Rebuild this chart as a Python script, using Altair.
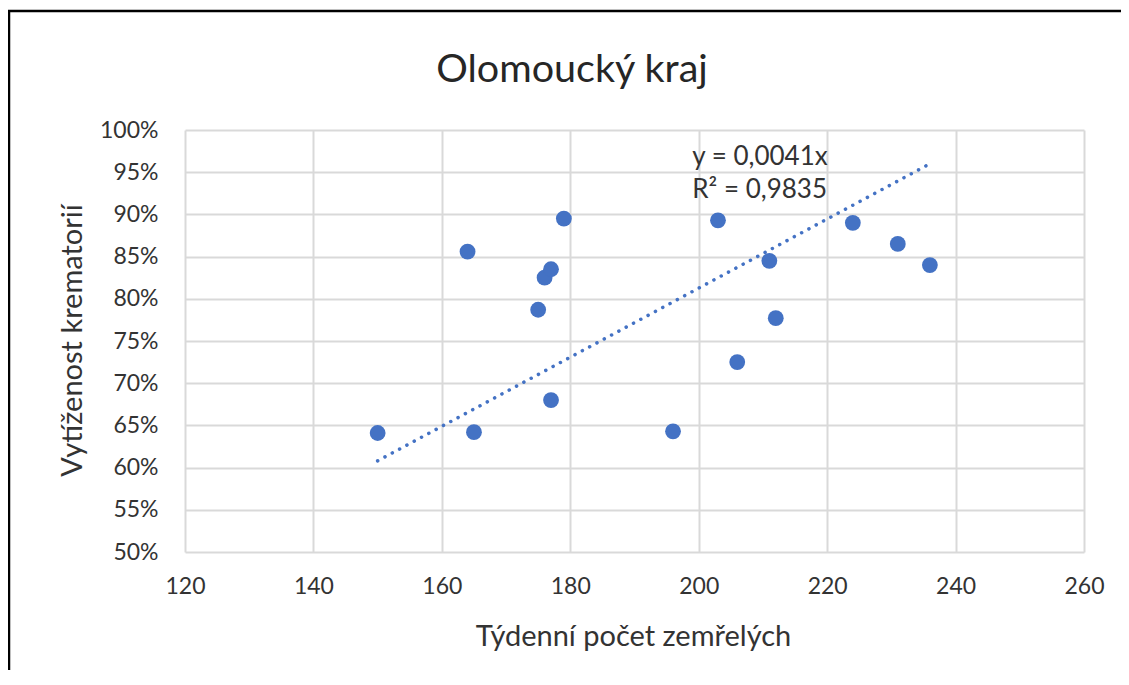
import altair as alt
import pandas as pd

# Data
deaths = [150, 164, 165, 175, 176, 177, 177, 179, 196, 203, 206, 211, 212, 224, 231, 236]
utilization = [0.641, 0.856, 0.642, 0.787, 0.825, 0.835, 0.680, 0.895, 0.643, 0.893, 0.725, 0.845, 0.777, 0.890, 0.865, 0.840]

trend_x = [150, 236]
trend_y = [0.608, 0.960]

eq_lines = ["y = 0,0041x", "R² = 0,9835"]
eq_x = [199.0, 199.0]
eq_y = [0.968, 0.929]

chart_title = ["Olomoucký kraj"]

FONT = "Lato"
TXT = "#333333"
BLUE = "#4472C4"

pts = pd.DataFrame({"x": deaths, "y": utilization})
trend = pd.DataFrame({"x": trend_x, "y": trend_y})
eq = pd.DataFrame({"x": eq_x, "y": eq_y, "t": eq_lines})
ttl = pd.DataFrame({"t": chart_title})

xscale = alt.Scale(domain=[120, 260], nice=False, zero=False)
yscale = alt.Scale(domain=[0.5, 1.0], nice=False, zero=False)

xaxis = alt.Axis(
    title="Týdenní počet zemřelých", values=list(range(120, 261, 20)),
    grid=True, gridColor="#d9d9d9", gridWidth=2, domain=False, ticks=False, tickSize=0,
    labelFont=FONT, labelFontSize=23, labelColor=TXT, labelPadding=23, labelFlush=False,
    titleFont=FONT, titleFontSize=29, titleColor=TXT, titleFontWeight="normal",
    titleX=448, titleY=84, titleBaseline="middle", titleAnchor="middle",
)
yaxis = alt.Axis(
    title="Vytíženost krematorií", values=[0.5 + 0.05 * i for i in range(11)], format=".0%",
    grid=True, gridColor="#d9d9d9", gridWidth=2, domain=False, ticks=False, tickSize=0,
    labelFont=FONT, labelFontSize=23, labelColor=TXT, labelPadding=27, labelFlush=False,
    titleFont=FONT, titleFontSize=29, titleColor=TXT, titleFontWeight="normal",
    titleX=-113, titleY=210, titleBaseline="middle", titleAngle=270, titleAlign="center",
)

points = alt.Chart(pts).mark_circle(size=250, color=BLUE, opacity=1).encode(
    x=alt.X("x:Q", scale=xscale, axis=xaxis),
    y=alt.Y("y:Q", scale=yscale, axis=yaxis),
)

line = alt.Chart(trend).mark_line(
    color=BLUE, strokeWidth=3.5, strokeDash=[0.1, 8.2], strokeCap="round"
).encode(x=alt.X("x:Q", scale=xscale), y=alt.Y("y:Q", scale=yscale))

label = alt.Chart(eq).mark_text(
    align="left", baseline="middle", font=FONT, fontSize=26, color=TXT
).encode(x=alt.X("x:Q", scale=xscale), y=alt.Y("y:Q", scale=yscale), text="t:N")

title_mark = alt.Chart(ttl).mark_text(
    align="center", baseline="middle", font=FONT, fontSize=39.5, color="#262626"
).encode(x=alt.value(387), y=alt.value(-60), text="t:N")

border_top = alt.Chart(ttl).mark_rule(color="black", strokeWidth=2.5).encode(
    x=alt.value(-177), x2=alt.value(960), y=alt.value(-119)
)
border_left = alt.Chart(ttl).mark_rule(color="black", strokeWidth=2.5).encode(
    x=alt.value(-176), y=alt.value(-119), y2=alt.value(560)
)

chart = alt.layer(points, line, label, title_mark, border_top, border_left).properties(
    width=899,
    height=422,
    padding={"left": 177, "top": 122, "right": 37, "bottom": 118},
    autosize=alt.AutoSizeParams(type="none"),
).configure_view(stroke=None)

chart.save("out.html", embed_options={"renderer": "svg", "actions": False})
